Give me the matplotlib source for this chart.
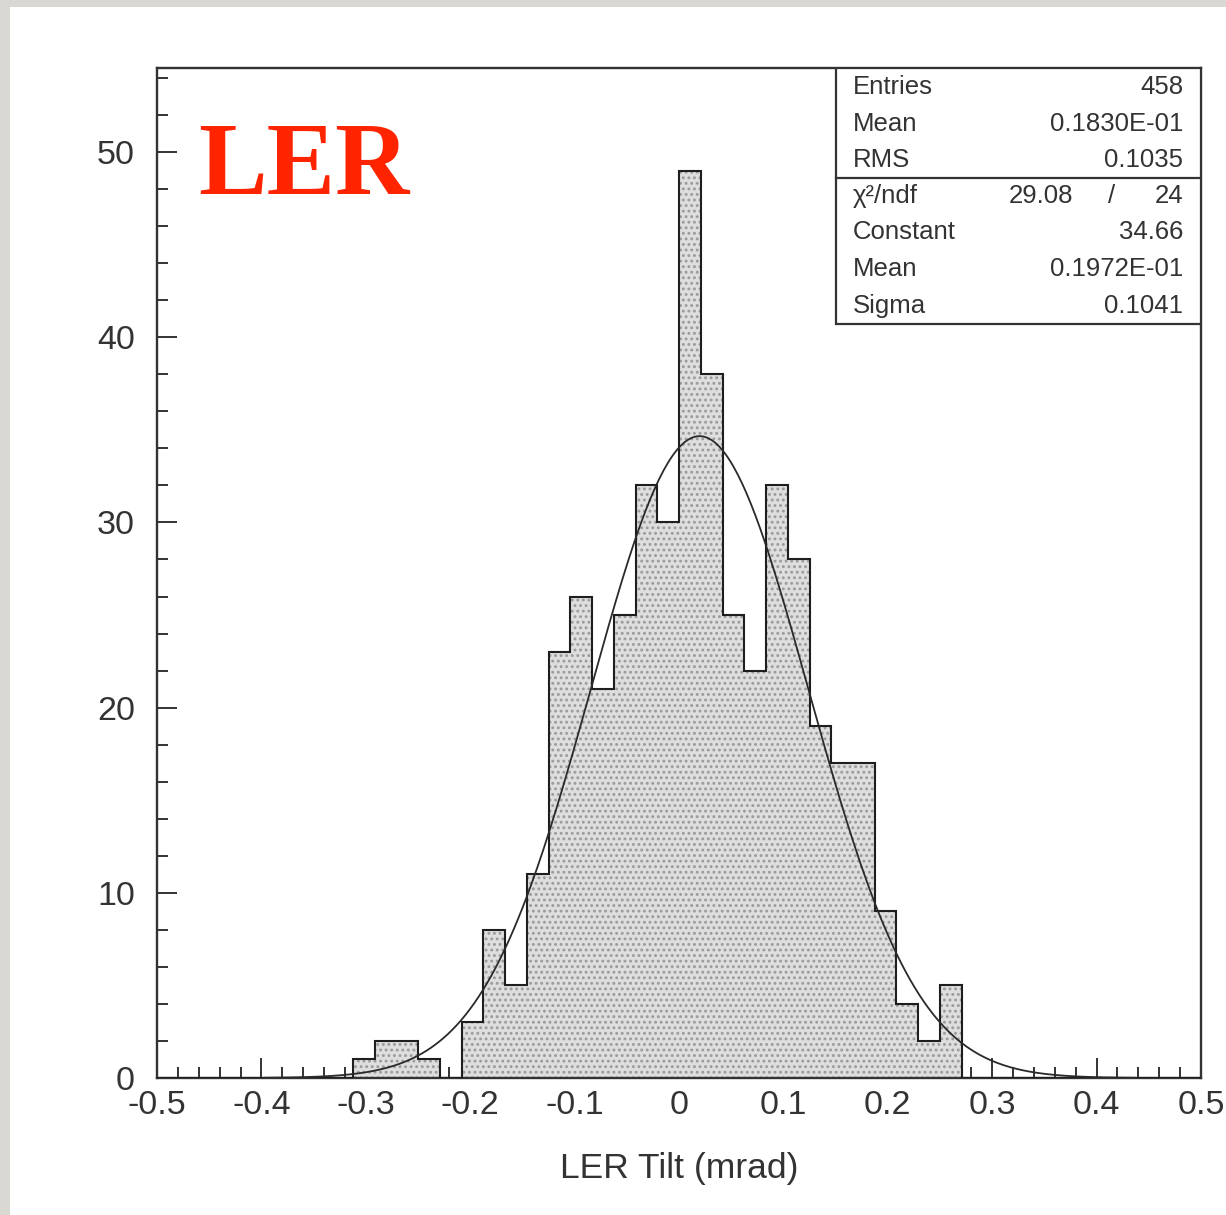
import numpy as np
import matplotlib.pyplot as plt
from matplotlib.patches import Rectangle
from matplotlib.ticker import MultipleLocator

plt.rcParams['font.family'] = ['Liberation Sans', 'DejaVu Sans']
plt.rcParams['hatch.linewidth'] = 1.3

# histogram: 48 bins over [-0.5, 0.5]
x_lo, x_hi, n_bins = -0.5, 0.5, 48
counts = [0, 0, 0, 0, 0, 0, 0, 0, 0, 1, 2, 2, 1, 0, 3, 8,
          5, 11, 23, 26, 21, 25, 32, 30, 49, 38, 25, 22, 32, 28, 19, 17,
          17, 9, 4, 2, 5, 0, 0, 0, 0, 0, 0, 0, 0, 0, 0, 0]

# statistics box
stat_labels = ["Entries", "Mean", "RMS"]
stat_values = ["458", "0.1830E-01", "0.1035"]
chi2, ndf = "29.08", "24"
fit_labels = ["Constant", "Mean", "Sigma"]
fit_values = [34.66, 0.1972E-01, 0.1041]
fit_text = ["34.66", "0.1972E-01", "0.1041"]

xticks = [-0.5, -0.4, -0.3, -0.2, -0.1, 0, 0.1, 0.2, 0.3, 0.4, 0.5]
xtick_labels = ["-0.5", "-0.4", "-0.3", "-0.2", "-0.1", "0", "0.1", "0.2", "0.3", "0.4", "0.5"]
yticks = [0, 10, 20, 30, 40, 50]

W, H = 1226, 1215
fig = plt.figure(figsize=(W / 100, H / 100), dpi=100)
fig.patch.set_facecolor('#dad8d3')
fig.add_artist(Rectangle((10 / W, 0), 1 - 10 / W, 1 - 7 / H, transform=fig.transFigure,
                         facecolor='white', edgecolor='none', zorder=0))

ax = fig.add_axes([157 / W, 1 - 1078 / H, 1044 / W, 1010 / H])
ax.set_facecolor('white')

edges = np.linspace(x_lo, x_hi, n_bins + 1)
counts = np.array(counts)

# dotted grey fill, then the black step outline
ax.stairs(counts, edges, fill=True, facecolor='#dedede', edgecolor='#9a9a9a',
          hatch='...', linewidth=0, zorder=2)
ax.stairs(counts, edges, fill=False, color='#1e1e1e', linewidth=1.5, zorder=3)

# gaussian fit curve, drawn over mean +- 4 sigma
const, mu, sig = fit_values
xf = np.linspace(mu - 4 * sig, mu + 4 * sig, 400)
ax.plot(xf, const * np.exp(-0.5 * ((xf - mu) / sig) ** 2), color='#2a2a2a', lw=1.3, zorder=4)

ax.set_xlim(x_lo, x_hi)
ax.set_ylim(0, 54.54)
ax.set_xticks(xticks)
ax.set_xticklabels(xtick_labels)
ax.set_yticks(yticks)
ax.xaxis.set_minor_locator(MultipleLocator(0.02))
ax.yaxis.set_minor_locator(MultipleLocator(2))
ax.tick_params(which='both', direction='in', color='#333333', width=1.4,
               top=False, right=False)
ax.tick_params(which='major', length=14.5)
ax.tick_params(which='minor', length=8)
ax.tick_params(axis='x', which='major', labelsize=24.5, labelcolor='#333333', pad=9)
ax.tick_params(axis='y', which='major', labelsize=24.5, labelcolor='#333333', pad=16)
for s in ax.spines.values():
    s.set_color('#333333')
    s.set_linewidth(1.7)

ax.set_xlabel("LER Tilt (mrad)", fontsize=25.5, color='#333333', labelpad=22)

ax.text(0.0393, 0.8750, "LER", transform=ax.transAxes, ha='left', va='baseline',
        fontsize=74, color='#ff2400', family=['Liberation Serif', 'DejaVu Serif'],
        fontweight='bold', zorder=5)

# stats box in the upper right corner
bx0, by0, bdiv = 0.6504, 0.7465, 0.8911
ax.add_patch(Rectangle((bx0, by0), 1 - bx0, 1 - by0, transform=ax.transAxes,
                       facecolor='white', edgecolor='#333333', lw=1.6, zorder=6))
ax.plot([bx0, 1], [bdiv, bdiv], transform=ax.transAxes, color='#333333', lw=1.6, zorder=7)

xl, xr = 0.6667, 0.9828
fs = 18.5
rows_top = [0.9812, 0.9446, 0.9089]
for y, lab, val in zip(rows_top, stat_labels, stat_values):
    ax.text(xl, y, lab, transform=ax.transAxes, ha='left', va='center', fontsize=fs, color='#333333', zorder=8)
    ax.text(xr, y, val, transform=ax.transAxes, ha='right', va='center', fontsize=fs, color='#333333', zorder=8)

ax.text(xl, 0.8733, "χ²/ndf", transform=ax.transAxes, ha='left', va='center', fontsize=fs, color='#333333', zorder=8)
ax.text(0.8774, 0.8733, chi2, transform=ax.transAxes, ha='right', va='center', fontsize=fs, color='#333333', zorder=8)
ax.text(0.9148, 0.8733, "/", transform=ax.transAxes, ha='center', va='center', fontsize=fs, color='#333333', zorder=8)
ax.text(xr, 0.8733, ndf, transform=ax.transAxes, ha='right', va='center', fontsize=fs, color='#333333', zorder=8)

rows_fit = [0.8376, 0.8010, 0.7644]
for y, lab, val in zip(rows_fit, fit_labels, fit_text):
    ax.text(xl, y, lab, transform=ax.transAxes, ha='left', va='center', fontsize=fs, color='#333333', zorder=8)
    ax.text(xr, y, val, transform=ax.transAxes, ha='right', va='center', fontsize=fs, color='#333333', zorder=8)

fig.savefig("out.png", dpi=100)
